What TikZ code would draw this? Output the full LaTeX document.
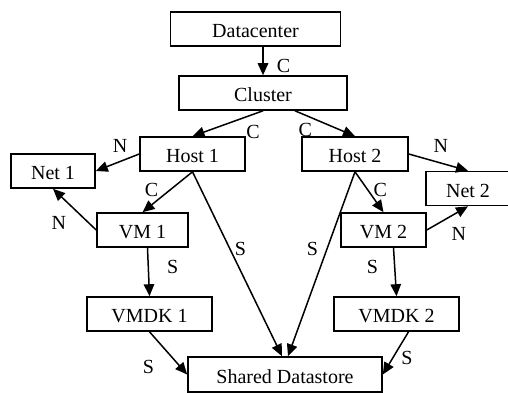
\documentclass[tikz,border=0pt]{standalone}
\usepackage{fontspec}
\setmainfont{Liberation Serif}
\usetikzlibrary{arrows.meta, positioning}

\begin{document}
\begin{tikzpicture}[>={Triangle[length=12pt, width=10.5pt]}, x=1pt, y=-1pt,
        every node/.style={font=\fontsize{20}{24}\selectfont},
        box/.style={draw, line width=1.6pt, minimum height=34pt, inner sep=0pt,
            text height=17pt, text depth=0pt},
        lbl/.style={inner sep=0pt}]
    \useasboundingbox (0, 0) rectangle (508, 392);
    \node[box, minimum width=170pt] (dc) at (255.5, 29) {Datacenter};
    \node[box, minimum width=168pt] (cl) at (263, 93) {Cluster};
    \node[box, minimum width=105pt] (h1) at (192.5, 154) {Host 1};
    \node[box, minimum width=106pt] (h2) at (355, 154) {Host 2};
    \node[box, minimum width=84pt] (n1) at (53, 171) {Net 1};
    \node[box, minimum width=84pt] (n2) at (468, 188.5) {Net 2};
    \node[box, minimum width=91pt] (vm1) at (142.5, 230) {VM 1};
    \node[box, minimum width=85pt] (vm2) at (383.5, 230) {VM 2};
    \node[box, minimum width=125pt] (d1) at (149.5, 314) {VMDK 1};
    \node[box, minimum width=125pt] (d2) at (396.5, 314) {VMDK 2};
    \node[box, minimum width=194pt, minimum height=35pt] (sd) at (285, 374.5) {Shared Datastore};
    \path[->, line width=1.5pt]
        (dc.south -| cl.north) edge node[lbl, pos=0.67, right=13pt] {C} (cl.north)
        (cl.south) edge node[lbl, pos=0.14, below=10pt] {C} (h1.north)
        ([xshift=32pt]cl.south) edge node[lbl, pos=0.17, below=7pt] {C} (h2.north)
        (h1.west) edge node[lbl, pos=0.44, above=8pt] {N} (n1.east)
        (h2.east) edge node[lbl, pos=0.54, above=10pt] {N} (n2.north)
        (h1.south) edge node[lbl, pos=0.45, left=11pt] {C} (vm1.north)
        (h2.south) edge node[lbl, pos=0.45, right=5pt] {C} (vm2.north)
        (vm1.west) edge node[lbl, pos=0.17, left=22pt] {N} (n1.south)
        (vm2.east) edge node[lbl, pos=0.78, below=15pt] {N} (n2.south)
        (h1.south) edge node[lbl, pos=0.42, right=4pt] {S} ([xshift=-3pt]sd.north)
        (h2.south) edge node[lbl, pos=0.42, left=8pt] {S} ([xshift=3pt]sd.north)
        ([xshift=5pt]vm1.south) edge node[lbl, pos=0.4, right=18pt] {S} (d1.north)
        ([xshift=10pt]vm2.south) edge node[lbl, pos=0.4, left=16pt] {S} (d2.north)
        (d1.south) edge node[lbl, pos=0.83, left=26pt] {S} (sd.west)
        ([xshift=12pt]d2.south) edge node[lbl, pos=0.62, right=8pt] {S} (sd.east)
    ;
\end{tikzpicture}
\end{document}
